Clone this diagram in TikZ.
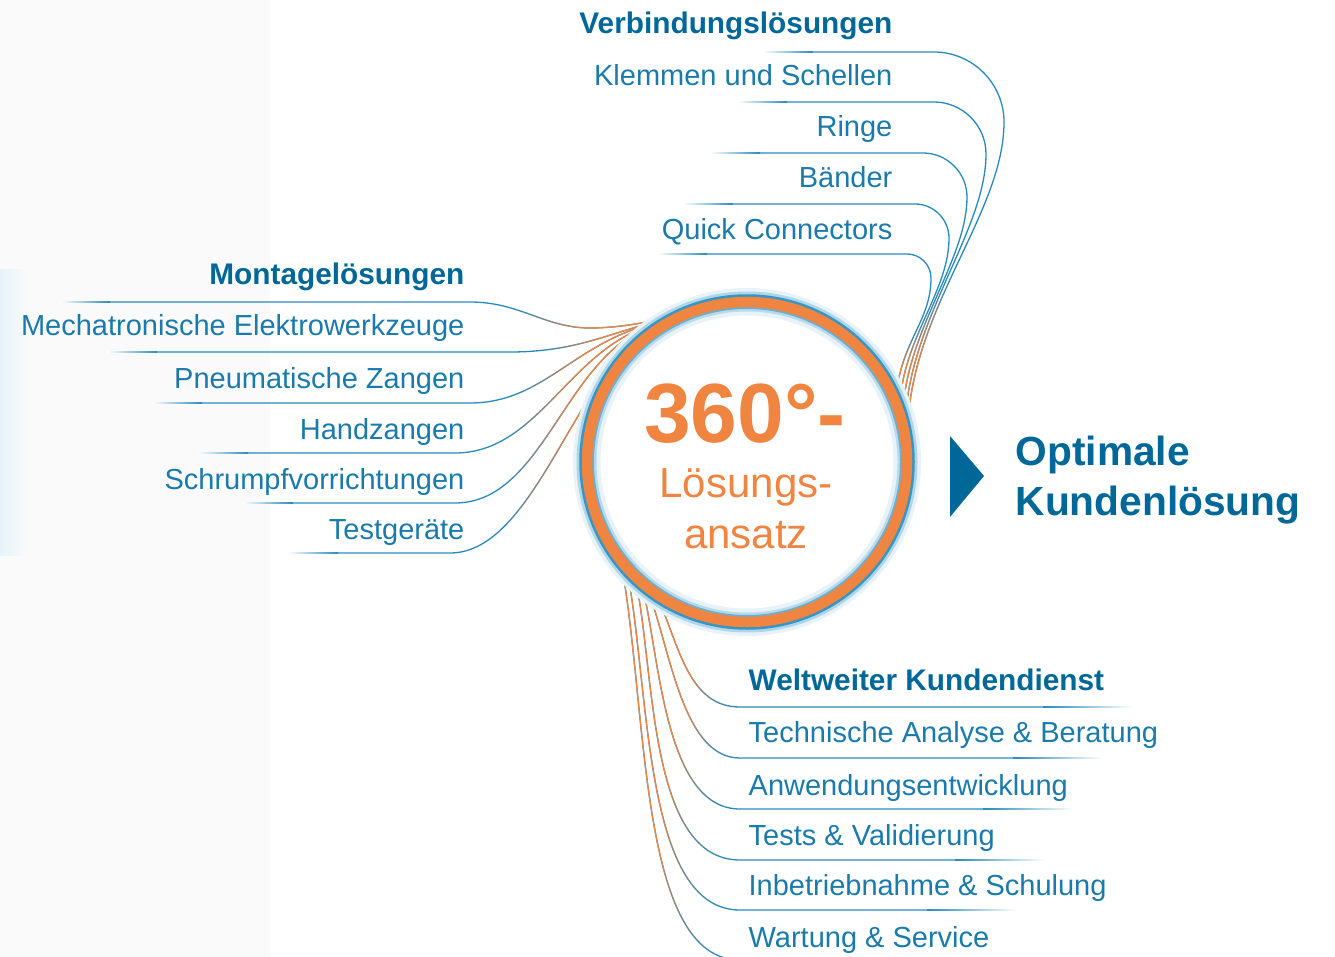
\documentclass[tikz,border=0pt]{standalone}
\usepackage{fontspec}
\setmainfont{Liberation Sans}
\usepackage{tikz}
\usetikzlibrary{calc,fadings}
\usepackage{xcolor}

\definecolor{headblue}{RGB}{0,104,152}
\definecolor{itemblue}{RGB}{26,122,172}
\definecolor{lineblue}{RGB}{40,138,188}
\definecolor{ringorange}{RGB}{240,132,65}
\definecolor{glowblue}{RGB}{52,150,198}
% masks for the colour change along the connectors
\pgfdeclarehorizontalshading{warmrightmask}{100bp}{color(0bp)=(black); color(37bp)=(black); color(55bp)=(white); color(100bp)=(white)}
\pgfdeclarefading{warm right}{\pgfuseshading{warmrightmask}}
\pgfdeclareverticalshading{warmdownmask}{100bp}{color(0bp)=(white); color(36bp)=(white); color(50bp)=(black); color(100bp)=(black)}
\pgfdeclarefading{warm down}{\pgfuseshading{warmdownmask}}
\pgfdeclareverticalshading{warmupmask}{100bp}{color(0bp)=(black); color(25bp)=(black); color(40bp)=(white); color(100bp)=(white)}
\pgfdeclarefading{warm up}{\pgfuseshading{warmupmask}}

\begin{document}
\begin{tikzpicture}[x=1pt,y=-1pt,line width=1.3pt]
\tikzstyle{item}=[text=itemblue,font=\fontsize{29}{34}\selectfont,inner sep=0]
\tikzstyle{head}=[item,text=headblue,font=\fontsize{29.8}{34}\selectfont\bfseries]
\tikzstyle{link}=[draw=lineblue]
\tikzstyle{warm}=[draw=ringorange]
\tikzstyle{core}=[text=ringorange,anchor=base,inner sep=0]

\useasboundingbox (0,0) rectangle (1335,957);
% pale panel on the left
\fill[black!2] (0,0) rectangle (270,957);
\shade[left color=glowblue!12,right color=black!2] (0,270) rectangle (28,555);

\node[circle,minimum size=330pt,inner sep=0,outer sep=0] (ring) at (747,462) {};

% Verbindungsloesungen
\node[head,anchor=base east] (vb) at (893,34) {Verbindungslösungen};
\node[item,anchor=base east] (vb1) at (893,86) {Klemmen und Schellen};
\node[item,anchor=base east] (vb2) at (893,137) {Ringe};
\node[item,anchor=base east] (vb3) at (893,188) {Bänder};
\node[item,anchor=base east] (vb4) at (893,240) {Quick Connectors};
\foreach \y/\xs/\xm/\rad/\ang/\hi/\ho in {52/763/1004/70/13/90/120,102/737/986/52/16/75/100,153/710/967/44/19/62/82,204/683/949/34/22/52/66,254/657/931/24/25/42/52}{
  \shade[left color=white,right color=lineblue] (\xs,\y-0.65) rectangle (\xs+50,\y+0.65);
  \coordinate (t\y) at (\xs+50,\y);
  \draw[link] (t\y) -- (\xm-\rad,\y) .. controls (\xm-0.45*\rad,\y) and (\xm,\y+0.45*\rad) .. (\xm,\y+\rad) coordinate (tm\y)
    .. controls (\xm,\y+\rad+\hi) and ($(ring.\ang)+(6,-\ho)$) .. (ring.\ang);
  \draw[warm,path fading=warm down] (tm\y) .. controls (\xm,\y+\rad+\hi) and ($(ring.\ang)+(6,-\ho)$) .. (ring.\ang);
}

% Montageloesungen
\node[head,anchor=base east] (mo) at (465,285) {Montagelösungen};
\node[item,anchor=base east] (mo1) at (465,335) {Mechatronische Elektrowerkzeuge};
\node[item,anchor=base east] (mo2) at (465,388) {Pneumatische Zangen};
\node[item,anchor=base east] (mo3) at (465,439) {Handzangen};
\node[item,anchor=base east] (mo4) at (465,489) {Schrumpfvorrichtungen};
\node[item,anchor=base east] (mo5) at (465,539) {Testgeräte};
\shade[left color=white,right color=lineblue] (60,301.35) rectangle (110,302.65);
\draw[link] (110,302) -- (470,302) coordinate (m1) .. controls (520,302) and (545,328) .. (590,328)
  .. controls (620,328) and (645,322) .. (ring.120);
\draw[warm,path fading=warm right] (m1) .. controls (520,302) and (545,328) .. (590,328)
  .. controls (620,328) and (645,322) .. (ring.120);
\foreach \y/\xs/\xh/\ax/\bx/\by/\ang in {352/107/510/580/615/330/121,403/152/470/545/575/340/122,453/198/455/540/570/345/123,503/243/455/545/565/352/124,553/288/450/535/575/372/125}{
  \shade[left color=white,right color=lineblue] (\xs,\y-0.65) rectangle (\xs+50,\y+0.65);
  \draw[link] (\xs+50,\y) -- (\xh,\y) coordinate (m\y) .. controls (\ax,\y) and (\bx,\by) .. (ring.\ang);
  \draw[warm,path fading=warm right] (m\y) .. controls (\ax,\y) and (\bx,\by) .. (ring.\ang);
}

% Weltweiter Kundendienst
\node[head,anchor=base west] (kd) at (748,690) {Weltweiter Kundendienst};
\node[item,anchor=base west] (kd1) at (748,742) {Technische Analyse \& Beratung};
\node[item,anchor=base west] (kd2) at (748,795) {Anwendungsentwicklung};
\node[item,anchor=base west] (kd3) at (748,845) {Tests \& Validierung};
\node[item,anchor=base west] (kd4) at (748,895) {Inbetriebnahme \& Schulung};
\node[item,anchor=base west] (kd5) at (748,947) {Wartung \& Service};
\foreach \y/\ang/\ax/\ay/\bx/\xe in {707/238/680/650/690/1133,758/234/672/660/685/1103,809/231/660/660/665/1073,860/228/655/680/650/1045,910/224/650/700/645/1017,960/221/648/720/640/990}{
  \draw[link] (ring.\ang) .. controls (\ax,\ay) and (\bx,\y) .. (740,\y) coordinate (k\y) -- (\xe-90,\y);
  \draw[warm,path fading=warm up] (ring.\ang) .. controls (\ax,\ay) and (\bx,\y) .. (k\y);
  \shade[left color=lineblue,right color=white] (\xe-90,\y-0.65) rectangle (\xe,\y+0.65);
}

% the ring
\fill[white] (ring.center) circle (160);
\draw[glowblue!12,line width=8] (ring.center) circle (170);
\draw[glowblue!12,line width=7] (ring.center) circle (150);
\draw[glowblue!40,line width=5] (ring.center) circle (168);
\draw[glowblue!35,line width=4] (ring.center) circle (152.5);
\draw[glowblue,line width=3.5] (ring.center) circle (166);
\draw[glowblue!75,line width=3] (ring.center) circle (154.5);
\draw[ringorange,line width=10.5] (ring.center) circle (160);
\node[core,font=\fontsize{84}{84}\selectfont\bfseries] (deg) at (745,442) {360°-};
\node[core,font=\fontsize{42}{42}\selectfont] (ls) at (746,497) {Lösungs-};
\node[core,font=\fontsize{42}{42}\selectfont] (an) at (746,548) {ansatz};

% result
\fill[headblue] (950,436) -- (984,476) -- (950,517) -- cycle;
\node[head,font=\fontsize{40.7}{41}\selectfont\bfseries,anchor=base west] (op) at (1015,465) {Optimale};
\node[head,font=\fontsize{40.7}{41}\selectfont\bfseries,anchor=base west] (kl) at (1015,515) {Kundenlösung};
\end{tikzpicture}
\end{document}
